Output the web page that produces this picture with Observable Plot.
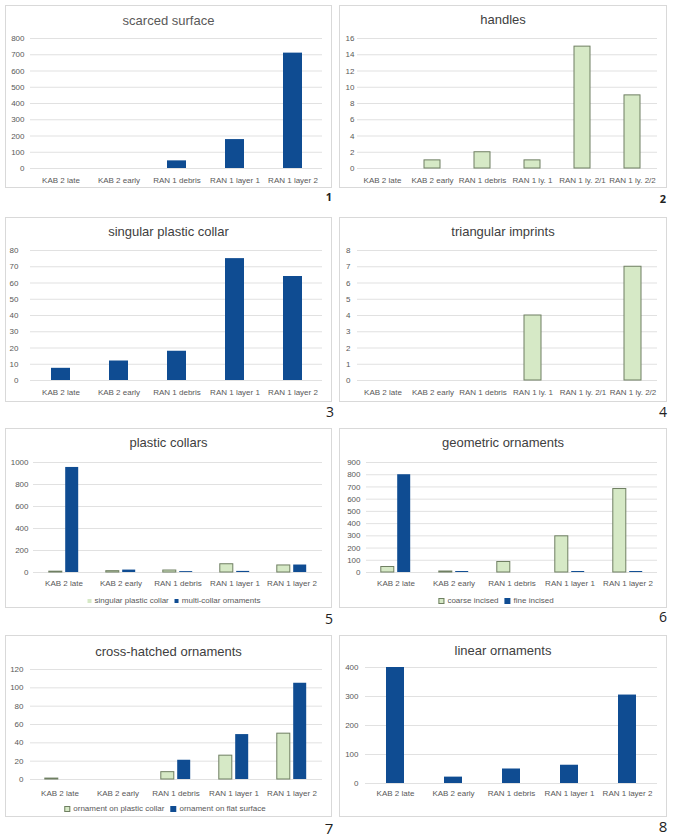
<!DOCTYPE html>
<html><head><meta charset="utf-8">
<script src="https://cdn.jsdelivr.net/npm/d3@7"></script>
<script src="https://cdn.jsdelivr.net/npm/@observablehq/plot@0.6"></script>
<style>
body{margin:0;background:#fff;width:674px;height:839px;position:relative;overflow:hidden;font-family:'Liberation Sans',Arial,sans-serif}
.box{position:absolute;border:1px solid #d9d9d9;box-sizing:border-box;background:#fff}
.title{position:absolute;text-align:center;font-size:13px;line-height:16px;color:#404040;white-space:nowrap}
.plot{position:absolute}
.legend{position:absolute;font-size:8px;color:#595959;white-space:nowrap;transform:translateX(-50%);line-height:10px;display:flex;align-items:center}
.sw{display:inline-block;width:5px;height:5px;margin-right:3px;box-sizing:border-box}
.num{position:absolute;font-family:'Open Sans',sans-serif;font-size:14px;color:#222;transform:translate(-50%,-50%);line-height:16px}
</style></head><body>
<script>
// ---- data ----
const cats5 = ["KAB 2 late","KAB 2 early","RAN 1 debris","RAN 1 layer 1","RAN 1 layer 2"];
const cats6 = ["KAB 2 late","KAB 2 early","RAN 1 debris","RAN 1 ly. 1","RAN 1 ly. 2/1","RAN 1 ly. 2/2"];
const scarcedSurface = [0,0,47,178,710];
const handles = [0,1,2,1,15,9];
const singularPlasticCollar = [7.5,12,18,75,64];
const triangularImprints = [0,0,0,4,0,7];
const multiCollarOrnaments = [955,22,8,10,68];
const coarseIncised = [45,8,86,296,683];
const fineIncised = [800,8,0,8,8];
const crossOnCollar = [1,0,8,26,50];
const crossOnFlat = [0,0,21,49,105];
const linearOrnaments = [400,22,50,63,305];

const DARK = "#0f4c92", GREEN = "#d6e9c6", GSTROKE = "#6f7f62";
const dark = {fill: DARK, stroke: "none"};
const green = {fill: GREEN, stroke: GSTROKE};

function el(cls, css, text){
  const d = document.createElement("div");
  d.className = cls;
  for (const k in css) d.style[k] = typeof css[k] === "number" ? css[k] + "px" : css[k];
  if (text != null) d.textContent = text;
  document.body.appendChild(d);
  return d;
}

function panel(c){
  const [bl, bt, bw, bh] = c.box;
  el("box", {left: bl, top: bt, width: bw, height: bh});
  el("title", {left: bl, width: bw, top: c.titleY - 8, color: c.titleColor || "#404040"}, c.title);
  const [gl, gr, gt, gb] = c.grid;
  const mt = 10, mb = 26;
  const h = (gb - gt) + mt + mb;
  const ticks = d3.range(0, c.yMax + c.yStep / 2, c.yStep);
  const p = c.pad;
  const marks = [Plot.ruleY(ticks, {stroke: "#d9d9d9", strokeWidth: 0.8})];
  c.series.forEach((s, si) => {
    const rows = c.cats.map((cat, i) => ({cat, v: s.values[i]})).filter(d => d.v > 0);
    marks.push(Plot.barY(rows, {x: "cat", y: "v", fill: s.style.fill, stroke: s.style.stroke, strokeWidth: 1, dx: s.dx || 0}));
  });
  marks.push(Plot.axisY(ticks, {tickSize: 0, tickPadding: c.yPad, fontSize: 8, tickFormat: d => String(d)}));
  marks.push(Plot.axisX({tickSize: 0, tickPadding: (c.labelY - gb) - 3, fontSize: 8}));
  const svg = Plot.plot({
    width: bw, height: h,
    marginLeft: gl - bl, marginRight: bl + bw - gr, marginTop: mt, marginBottom: mb,
    x: {domain: c.cats, paddingInner: p, paddingOuter: p / 2, align: 0.5, label: null, axis: null},
    y: {domain: [0, c.yMax], label: null, axis: null},
    style: {background: "transparent", color: "#595959", fontFamily: "'Liberation Sans', Arial, sans-serif", fontSize: "8px", overflow: "visible"},
    marks
  });
  const wrap = el("plot", {left: bl, top: gt - mt});
  wrap.appendChild(svg);
  if (c.legend){
    const lg = el("legend", {left: c.legend.x, top: c.legend.y - 5});
    c.series.forEach((s, i) => {
      const sw = document.createElement("span");
      sw.className = "sw";
      sw.style.width = sw.style.height = c.legend.sw + "px";
      sw.style.background = s.style.fill;
      if (s.style.stroke !== "none" && c.legend.border) sw.style.border = "1px solid " + s.style.stroke;
      const tx = document.createElement("span");
      tx.textContent = s.name;
      tx.style.marginRight = i < c.series.length - 1 ? "6px" : "0";
      lg.appendChild(sw); lg.appendChild(tx);
    });
  }
  el("num", {left: c.num.x, top: c.num.y, fontSize: c.num.size, fontWeight: c.num.bold ? "bold" : "normal"}, c.num.t);
}

panel({box: [5,5,327,183], title: "scarced surface", titleY: 21, titleColor: "#595959", grid: [30,322,38,168], labelY: 180,
  yMax: 800, yStep: 100, yPad: 6, pad: 0.675, cats: cats5,
  series: [{name: "scarced surface", values: scarcedSurface, style: dark}], num: {t: "1", x: 329, y: 197, size: 11, bold: true}});

panel({box: [339,5,328,183], title: "handles", titleY: 20, grid: [357,657,38,168], labelY: 180,
  yMax: 16, yStep: 2, yPad: 3, pad: 0.68, cats: cats6,
  series: [{name: "handles", values: handles, style: green}], num: {t: "2", x: 663, y: 199, size: 11, bold: true}});

panel({box: [5,217,327,185], title: "singular plastic collar", titleY: 232, grid: [30,322,250,380], labelY: 392,
  yMax: 80, yStep: 10, yPad: 12, pad: 0.675, cats: cats5,
  series: [{name: "singular plastic collar", values: singularPlasticCollar, style: dark}], num: {t: "3", x: 330, y: 412, size: 14}});

panel({box: [339,217,328,185], title: "triangular imprints", titleY: 232, grid: [357,657,250,380], labelY: 392,
  yMax: 8, yStep: 1, yPad: 7, pad: 0.66, cats: cats6,
  series: [{name: "triangular imprints", values: triangularImprints, style: green}], num: {t: "4", x: 663, y: 412, size: 14}});

panel({box: [5,428,327,180], title: "plastic collars", titleY: 443, grid: [33,322,462,572], labelY: 583,
  yMax: 1000, yStep: 200, yPad: 5, pad: 0.77, cats: cats5,
  series: [{name: "singular plastic collar", values: singularPlasticCollar, style: green, dx: -8.2},
           {name: "multi-collar ornaments", values: multiCollarOrnaments, style: dark, dx: 8.2}],
  legend: {x: 174, y: 601, sw: 4, border: false}, num: {t: "5", x: 329, y: 619, size: 14}});

panel({box: [339,428,328,180], title: "geometric ornaments", titleY: 443, grid: [366,657,462,572], labelY: 583,
  yMax: 900, yStep: 100, yPad: 6, pad: 0.77, cats: cats5,
  series: [{name: "coarse incised", values: coarseIncised, style: green, dx: -8.2},
           {name: "fine incised", values: fineIncised, style: dark, dx: 8.2}],
  legend: {x: 496, y: 601, sw: 6, border: true}, num: {t: "6", x: 663, y: 617, size: 14}});

panel({box: [5,635,327,182], title: "cross-hatched ornaments", titleY: 652, grid: [30,322,669,779], labelY: 793,
  yMax: 120, yStep: 20, yPad: 7, pad: 0.77, cats: cats5,
  series: [{name: "ornament on plastic collar", values: crossOnCollar, style: green, dx: -8.2},
           {name: "ornament on flat surface", values: crossOnFlat, style: dark, dx: 8.2}],
  legend: {x: 165, y: 809, sw: 6, border: true}, num: {t: "7", x: 329, y: 828, size: 15}});

panel({box: [339,635,328,182], title: "linear ornaments", titleY: 651, grid: [365,657,667,783], labelY: 793,
  yMax: 400, yStep: 100, yPad: 7, pad: 0.69, cats: cats5,
  series: [{name: "linear ornaments", values: linearOrnaments, style: dark}], num: {t: "8", x: 663, y: 826, size: 15}});
</script>
</body></html>
